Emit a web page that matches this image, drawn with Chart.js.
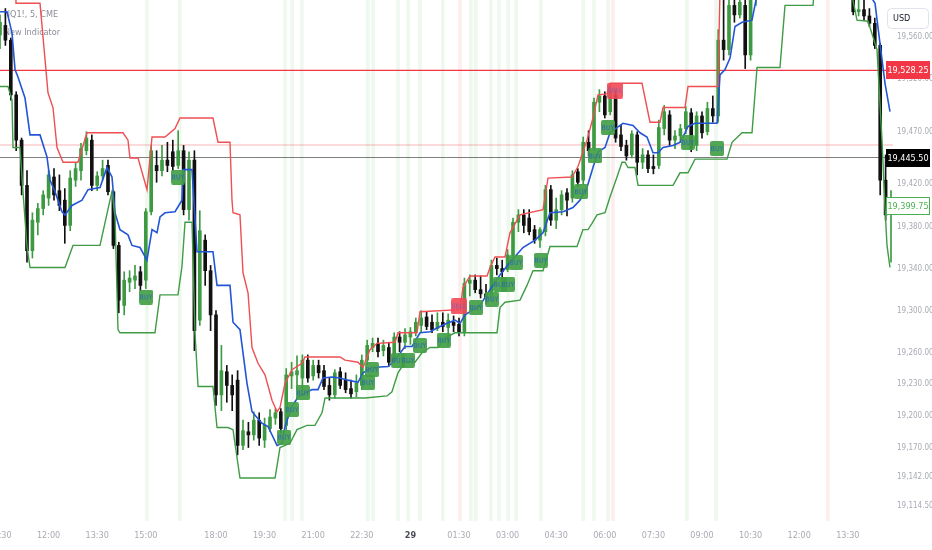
<!DOCTYPE html>
<html>
<head>
<meta charset="utf-8">
<script src="https://cdn.jsdelivr.net/npm/chart.js@4.4.1/dist/chart.umd.min.js"></script>
<style>
  html, body { margin:0; padding:0; background:#fff; }
  #grafikon { display:block; }
</style>
</head>
<body>
<canvas id="grafikon" width="932" height="550"></canvas>
<script>
// ---------- ADATOK ----------
// x = 10 perces gyertya sorszáma (0 = 10:30), y = ár
const timeTickPos    = [0, 9, 18, 27, 40, 49, 58, 67, 76, 85, 94, 103, 112, 121, 130, 139, 148, 157];
const timeTickLabels = ['10:30','12:00','13:30','15:00','18:00','19:30','21:00','22:30','29','01:30','03:00','04:30','06:00','07:30','09:00','10:30','12:00','13:30'];
const priceTicks = [19560, 19520, 19470, 19420, 19380, 19340, 19300, 19260, 19230, 19200, 19170, 19142, 19114.5];

const opens = [19562,19571,19557,19505,19462,19419,19357,19384,19397,19407,19427,19414,19405,19381,19424,19433,19452,19462,19419,19428,
19438,19413,19362,19305,19327,19329,19337,19329,19394,19438,19433,19443,19451,19438,19452,19396,19443,19291,19367,19338,
19296,19220,19242,19229,19234,19172,19185,19182,19196,19177,19188,19198,19204,19191,19238,19239,19236,19253,19238,19248,
19243,19229,19220,19242,19234,19226,19223,19229,19253,19265,19269,19262,19265,19253,19275,19270,19275,19280,19286,19294,
19289,19283,19289,19284,19289,19287,19280,19326,19329,19320,19316,19313,19343,19340,19339,19353,19384,19391,19388,19377,
19367,19375,19415,19386,19396,19412,19407,19432,19424,19460,19454,19498,19504,19489,19505,19467,19457,19448,19467,19441,
19448,19437,19438,19473,19486,19462,19466,19473,19488,19457,19485,19470,19492,19485,19557,19548,19590,19581,19590,19543,
19600,19615,19630,19625,19640,19650,19645,19660,19670,19665,19675,19668,19660,19650,19640,19630,19620,19612,19605,19584,
19586,19580,19573,19552,19424,19393];
const highs = [19581,19587,19559,19508,19464,19433,19393,19402,19414,19433,19435,19429,19416,19433,19441,19459,19470,19467,19432,19443,
19443,19414,19365,19337,19338,19343,19342,19397,19457,19452,19457,19460,19462,19471,19457,19451,19452,19395,19372,19343,
19300,19267,19248,19239,19243,19196,19194,19204,19203,19198,19206,19207,19207,19245,19251,19257,19258,19258,19253,19253,
19248,19236,19244,19246,19241,19234,19239,19258,19272,19274,19274,19272,19270,19279,19280,19283,19284,19293,19300,19299,
19296,19298,19298,19297,19295,19293,19331,19334,19334,19333,19325,19348,19350,19348,19358,19388,19396,19396,19396,19381,
19379,19419,19419,19407,19414,19416,19433,19435,19465,19471,19502,19510,19508,19514,19510,19476,19462,19471,19470,19454,
19452,19448,19481,19495,19490,19471,19477,19494,19492,19489,19489,19498,19504,19567,19605,19609,19614,19619,19609,19624,
19625,19640,19645,19650,19660,19665,19672,19680,19685,19690,19688,19680,19672,19662,19650,19642,19632,19622,19614,19600,
19597,19587,19578,19554,19448,19414];
const lows = [19549,19552,19500,19452,19410,19346,19350,19372,19391,19400,19405,19395,19364,19376,19418,19424,19448,19414,19414,19424,
19410,19359,19298,19296,19318,19321,19319,19321,19391,19422,19428,19432,19433,19435,19391,19386,19262,19286,19324,19281,
19210,19205,19213,19205,19163,19168,19170,19177,19172,19170,19185,19192,19184,19187,19226,19225,19223,19232,19234,19236,
19225,19215,19217,19226,19222,19217,19218,19225,19248,19261,19256,19257,19247,19251,19261,19264,19268,19276,19280,19282,
19279,19281,19280,19267,19280,19276,19276,19314,19317,19312,19307,19310,19334,19331,19337,19350,19375,19374,19372,19364,
19360,19371,19381,19378,19391,19390,19403,19418,19420,19447,19452,19489,19483,19486,19460,19452,19443,19445,19429,19435,
19431,19430,19435,19467,19457,19454,19460,19468,19451,19452,19464,19467,19479,19479,19538,19543,19574,19578,19530,19538,
19590,19608,19615,19618,19632,19635,19638,19650,19655,19658,19660,19650,19640,19630,19622,19612,19605,19598,19581,19580,
19576,19570,19549,19410,19386,19346];
const closes = [19574,19557,19505,19462,19419,19357,19386,19397,19410,19429,19410,19400,19381,19426,19435,19454,19464,19419,19428,19435,
19413,19362,19310,19329,19331,19333,19324,19394,19452,19433,19443,19438,19437,19452,19396,19443,19281,19376,19338,19296,
19220,19243,19229,19220,19172,19186,19182,19196,19179,19191,19199,19203,19188,19239,19242,19243,19253,19236,19248,19241,
19228,19220,19241,19229,19225,19221,19231,19253,19267,19269,19261,19267,19251,19275,19270,19277,19280,19289,19293,19285,
19282,19289,19285,19291,19286,19280,19326,19329,19320,19316,19312,19343,19340,19337,19353,19384,19391,19381,19375,19367,
19377,19415,19386,19396,19410,19405,19429,19422,19460,19452,19498,19504,19486,19508,19464,19456,19447,19468,19441,19448,
19435,19435,19474,19489,19462,19466,19473,19489,19454,19485,19469,19492,19485,19557,19548,19590,19581,19593,19543,19600,
19615,19630,19625,19640,19650,19645,19660,19670,19665,19675,19668,19660,19650,19640,19630,19620,19612,19605,19584,19586,
19580,19573,19552,19424,19391,19399.75];

// sávok töréspontjai: [gyertya sorszám, ár]
const upperBand = [[0,19619],[2.87,19619],[2.96,19592],[7.41,19592],[8.89,19507],[9.81,19493],[10.56,19455],[11.67,19441],[14.44,19441],
[16.11,19469],[22.78,19469],[23.7,19462],[24.07,19445],[25.56,19445],[27.22,19415],[28.15,19465],[30.56,19465],[32.41,19473],[33.33,19483],
[39.44,19483],[40.37,19460],[42.59,19460],[42.96,19405],[43.15,19393],[44.44,19391],[45,19336],[45.93,19317],[46.67,19265],[47.78,19250],
[49.07,19239],[50.37,19215],[51.3,19204],[51.85,19208],[52.78,19231],[54.07,19244],[55.93,19250],[56.48,19256],[62.96,19256],[63.89,19253],
[66.3,19251],[67.22,19246],[68.52,19263],[69.81,19269],[73.15,19270],[73.7,19279],[77.22,19279],[77.78,19299],[85.19,19301],[85.74,19322],
[87.04,19333],[90.19,19333],[90.74,19341],[91.67,19351],[93.52,19351],[94.44,19374],[96.3,19391],[100.56,19396],[101.48,19426],[105.93,19427],
[107.04,19437],[108.7,19462],[109.81,19483],[110.74,19505],[112.41,19506],[112.96,19516],[118.89,19516],[120.37,19479],[122.22,19479],
[122.78,19493],[126.85,19493],[127.41,19513],[132.96,19513],[133.33,19605],[145,19660],[165.4,19640]];
const midLine = [[0,19584],[1.3,19584],[2.22,19564],[2.78,19529],[3.33,19522],[4.63,19502],[5.56,19467],[7.41,19467],[8.7,19446],[9.26,19424],
[10.19,19413],[11.48,19394],[12.04,19391],[13.33,19400],[15.19,19405],[16.3,19415],[18.52,19417],[19.81,19436],[20.74,19427],[21.3,19393],
[22.22,19377],[23.7,19372],[24.44,19362],[25.93,19360],[27.22,19348],[28.15,19377],[29.07,19374],[29.63,19389],[30.56,19393],[32.41,19394],
[33.7,19405],[33.89,19434],[35.56,19434],[36.48,19356],[39.44,19356],[40.19,19324],[42.59,19324],[43.15,19289],[44.44,19282],[45.74,19231],
[46.67,19204],[48.52,19193],[49.63,19190],[51.3,19172],[52.22,19174],[52.78,19190],[54.07,19209],[55.19,19218],[57.78,19225],[58.89,19225],
[59.81,19236],[61.48,19237],[62.96,19236],[64.44,19234],[66.3,19232],[67.22,19241],[68.89,19246],[71.85,19247],[73.15,19253],[75,19266],
[76.3,19266],[77.78,19279],[79.63,19280],[81.11,19284],[82.78,19288],[84.26,19291],[85.19,19288],[86.11,19296],[88.89,19305],[90.74,19320],
[92.59,19334],[94.44,19346],[96.85,19360],[99.07,19367],[100.56,19374],[101.85,19393],[104.26,19394],[106.11,19398],[107.41,19405],
[108.7,19417],[109.81,19436],[110.74,19451],[112.04,19455],[112.96,19469],[114.26,19474],[115.37,19478],[117.22,19476],[118.52,19469],
[119.81,19465],[120.93,19450],[121.85,19450],[122.78,19455],[124.63,19457],[125.93,19460],[126.85,19469],[127.41,19475],[128.7,19478],
[132.78,19478],[133.33,19524],[134.26,19529],[135.19,19540],[136.11,19570],[137.41,19574],[139.26,19576],[140.19,19600],[148,19652],
[159.3,19633],[161.67,19595],[162.04,19592],[162.96,19554],[163.89,19516],[164.81,19489]];
const lowerBand = [[0,19513],[1.48,19513],[2.22,19500],[2.41,19455],[3.7,19455],[4.26,19413],[5,19361],[5.56,19341],[12.04,19341],[13.52,19362],
[18.52,19362],[20.37,19405],[20.74,19413],[21.3,19389],[21.85,19282],[22.22,19279],[28.7,19279],[29.63,19315],[32.96,19315],[33.7,19342],
[34.26,19384],[35.56,19384],[36.11,19279],[36.67,19228],[39.44,19228],[40.19,19189],[42.22,19189],[43.15,19187],[44.44,19141],[50.93,19141],
[51.85,19170],[53.7,19174],[55,19187],[56.85,19191],[58.33,19191],[59.63,19203],[60.19,19217],[67.59,19217],[71.67,19219],[72.59,19223],
[73.7,19241],[75,19251],[76.85,19251],[78.15,19260],[79.63,19265],[81.11,19265],[82.41,19274],[84.26,19279],[92.04,19279],[92.59,19303],
[93.52,19308],[96.3,19310],[97.59,19324],[98.7,19338],[100.56,19338],[101.85,19361],[106.85,19361],[107.96,19377],[108.89,19377],
[109.63,19383],[110.56,19391],[112.04,19393],[112.96,19408],[114.26,19427],[115.19,19441],[115.74,19441],[116.3,19436],[117.59,19436],
[118.15,19419],[124.63,19419],[125.93,19431],[127.41,19431],[128.7,19444],[134.63,19444],[135.56,19460],[137.41,19469],[139.26,19469],
[140.19,19531],[144.44,19531],[145.37,19590],[150.56,19590],[150.93,19614],[157.41,19614],[157.96,19595],[158.7,19576],[160.74,19575],
[162.41,19548],[163.33,19462],[163.89,19398],[164.26,19362],[164.81,19341]];

const buyBars  = [27.2, 33.3, 52.8, 54.1, 55.9, 68.1, 69.1, 73.7, 75.6, 77.8, 82, 87.2, 88.1, 90.9, 92.4, 94.1, 95.6, 100.2, 108, 110, 112.6, 127.2, 132.6];
const sellBars = [85.2, 113.5, 153.3];
const buyLabels  = [[27.04,19313],[32.96,19427],[52.59,19180],[54.07,19206],[56.11,19222],[68.15,19232],[68.89,19244],[73.7,19253],
[75.56,19253],[77.78,19267],[82.22,19272],[88.15,19303],[91.11,19311],[92.59,19325],[94.07,19325],[95.56,19346],[100.19,19348],
[107.59,19413],[110.19,19447],[112.59,19474],[127.41,19460],[132.78,19454]];
const sellLabels = [[85,19304],[113.89,19509]];

const levelRed  = 19528.25;
const levelPink = 19457.4;
const levelGray = 19445.5;
const lastPrice = 19399.75;

// ---------- BEÁLLÍTÁSOK ----------
const Y_MIN = 19100.2, Y_MAX = 19595.15, X_MAX = 165.37;
const NARROW = "'Liberation Sans Narrow', 'DejaVu Sans Condensed', 'Roboto Condensed', Roboto, sans-serif";
const GREEN = '#3d9a42', BLACK = '#111111';

function priceFormat(v){
  return v.toLocaleString('en-US', { minimumFractionDigits:2, maximumFractionDigits:2 });
}

function labelCanvas(text, bg, fg, w, h){
  const c = document.createElement('canvas');
  c.width = w; c.height = h;
  const g = c.getContext('2d');
  g.fillStyle = bg;
  g.beginPath();
  g.roundRect(0, 0, w, h, 2);
  g.fill();
  g.fillStyle = fg;
  g.font = '7px ' + NARROW;
  g.textAlign = 'center';
  g.textBaseline = 'middle';
  g.fillText(text, w / 2, h / 2 + 0.5);
  return c;
}

const toPts = arr => arr.map(p => ({ x:p[0], y:p[1] }));
const levelLine = v => [{ x:0, y:v }, { x:X_MAX, y:v }];
const candleColors = closes.map((c, i) => c >= opens[i] ? GREEN : BLACK);

// ---------- RAJZ KIEGÉSZÍTŐK ----------
const overlay = {
  id:'overlay',
  beforeDatasetsDraw(chart){
    const g = chart.ctx;
    g.save();
    g.font = '9px ' + NARROW;
    g.fillStyle = '#8a8d96';
    g.textBaseline = 'middle';
    g.fillText('NQ1!, 5, CME', 4, 15);
    g.fillText('New Indicator', 4, 33);
    g.restore();
  },
  afterDraw(chart){
    const g = chart.ctx;
    const ys = chart.scales.y;
    g.save();
    // USD doboz
    g.strokeStyle = '#e0e3eb';
    g.lineWidth = 1;
    g.beginPath();
    g.roundRect(887.5, 8.5, 41, 20, 4);
    g.stroke();
    g.fillStyle = '#131722';
    g.font = '9px ' + NARROW;
    g.textBaseline = 'middle';
    g.fillText('USD', 893, 18.5);

    // ártáblák
    const tags = [
      { v:levelRed,  bg:'#f23645', fg:'#ffffff', border:null },
      { v:levelGray, bg:'#000000', fg:'#ffffff', border:null },
      { v:lastPrice, bg:'#ffffff', fg:'#4caf50', border:'#4caf50' }
    ];
    tags.forEach(t => {
      const yy = Math.round(ys.getPixelForValue(t.v));
      g.fillStyle = t.bg;
      g.fillRect(886, yy - 9, 44, 18);
      if(t.border){
        g.strokeStyle = t.border;
        g.strokeRect(886.5, yy - 8.5, 43, 17);
      }
      g.fillStyle = t.fg;
      g.textAlign = 'center';
      g.fillText(priceFormat(t.v), 908, yy + 0.5);
    });
    g.restore();
  }
};

// ---------- GRAFIKON ----------
const ctx = document.getElementById('grafikon').getContext('2d');
new Chart(ctx, {
  type:'bar',
  data:{
    datasets:[
      { type:'line', data: toPts(buyLabels), showLine:false, pointStyle: labelCanvas('BUY', 'rgba(67,160,71,0.92)', '#2b65b8', 14, 15), pointRadius:7, order:0 },
      { type:'line', data: toPts(sellLabels), showLine:false, pointStyle: labelCanvas('SELL', 'rgba(242,72,88,0.9)', '#8c5aa8', 16, 16), pointRadius:7, order:0 },
      { type:'line', data: toPts(upperBand), borderColor:'#ef4f52', borderWidth:1.4, pointRadius:0, tension:0, order:1 },
      { type:'line', data: toPts(lowerBand), borderColor:'#3f9c45', borderWidth:1.4, pointRadius:0, tension:0, order:1 },
      { type:'line', data: toPts(midLine),   borderColor:'#2355d6', borderWidth:1.6, pointRadius:0, tension:0, order:1 },
      { data: closes.map((c, i) => ({ x:i, y:[opens[i], c] })), backgroundColor: candleColors, barThickness:3, minBarLength:1, stack:'k', order:2 },
      { data: closes.map((c, i) => ({ x:i, y:[lows[i], highs[i]] })), backgroundColor: candleColors, barThickness:1, stack:'k', order:3 },
      { type:'line', data: levelLine(levelRed),  borderColor:'#f23645', borderWidth:1.2, pointRadius:0, order:4 },
      { type:'line', data: levelLine(levelPink), borderColor:'rgba(242,54,69,0.25)', borderWidth:1.5, pointRadius:0, order:4 },
      { type:'line', data: levelLine(levelGray), borderColor:'rgba(40,40,40,0.75)', borderWidth:0.8, pointRadius:0, order:4 },
      { data: buyBars.map(k => ({ x:k, y:[Y_MIN, Y_MAX] })), backgroundColor:'rgba(76,175,80,0.09)', barThickness:3, stack:'k', order:5 },
      { data: sellBars.map(k => ({ x:k, y:[Y_MIN, Y_MAX] })), backgroundColor:'rgba(242,54,69,0.09)', barThickness:3, stack:'k', order:5 }
    ]
  },
  options:{
    responsive:false,
    animation:false,
    events:[],
    layout:{ padding:0, autoPadding:false },
    plugins:{ legend:{ display:false }, tooltip:{ enabled:false } },
    scales:{
      x:{
        type:'linear', min:0, max:X_MAX, offset:false,
        grid:{ display:false, drawTicks:false }, border:{ display:false },
        afterBuildTicks: s => { s.ticks = timeTickPos.map(v => ({ value:v })); },
        afterFit: s => { s.height = 29; s.paddingLeft = 0; s.paddingRight = 0; },
        ticks:{
          autoSkip:false, maxRotation:0, padding:9,
          callback: (v, i) => timeTickLabels[i],
          color: c => (c.tick && c.tick.value === 76) ? '#4a4d55' : '#a8abb3',
          font: c => ({ family: NARROW, size: 9, weight: (c.tick && c.tick.value === 76) ? 'bold' : 'normal' })
        }
      },
      y:{
        type:'linear', position:'right', min:Y_MIN, max:Y_MAX, stacked:false, beginAtZero:false,
        grid:{ display:false, drawTicks:false }, border:{ display:false },
        afterBuildTicks: s => { s.ticks = priceTicks.map(v => ({ value:v })); },
        afterFit: s => { s.width = 39; s.paddingTop = 0; s.paddingBottom = 0; },
        ticks:{
          autoSkip:false, padding:4, color:'#a8abb3',
          font:{ family: NARROW, size:8 },
          callback: v => priceFormat(v)
        }
      }
    }
  },
  plugins:[overlay]
});
</script>
</body>
</html>
